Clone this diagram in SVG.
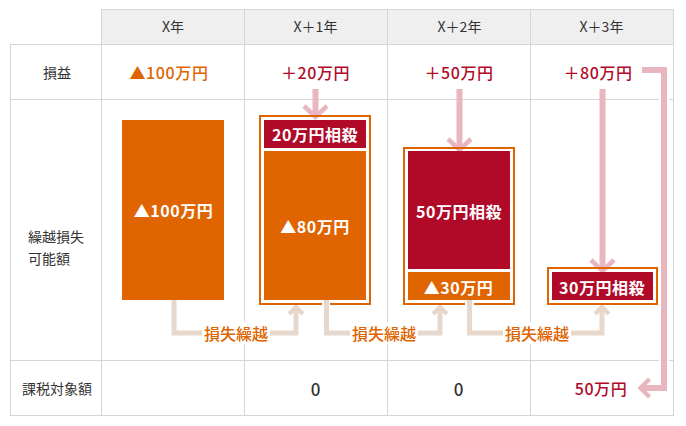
<svg xmlns="http://www.w3.org/2000/svg" width="686" height="426" viewBox="0 0 686 426">
<style>
text{font-family:"Noto Sans CJK JP","Noto Sans",sans-serif;text-anchor:middle;dominant-baseline:central}
.grid{stroke:#d6d6d6;stroke-width:1;fill:none}
.hd{font-size:14px;fill:#333}
.rh{font-size:14px;fill:#333;text-anchor:start}
.val{font-size:16px;font-weight:500;letter-spacing:0.6px}
.or{fill:#e06400}
.rd{fill:#b00a28}
.bt{font-size:16px;font-weight:bold;fill:#fff;letter-spacing:0.5px}
.obox{fill:none;stroke:#e06400;stroke-width:2}
.pk{fill:none;stroke:#e8b6bf;stroke-width:6}
.pkh{fill:none;stroke:#e8b6bf;stroke-width:4.5}
.wh{fill:none;stroke:#fff;stroke-width:10}
.tn{fill:none;stroke:#e7d8cd;stroke-width:5}
.tnh{fill:none;stroke:#e7d8cd;stroke-width:4.5}
.lbl{font-size:16px;font-weight:500;fill:#e06400}
.num{font-size:17px;font-weight:500;fill:#333}
</style>
<rect width="686" height="426" fill="#fff"/>
<g id="table">
<rect x="101" y="9" width="572" height="35" fill="#efefef"/>
<path class="grid" d="M101,9.5H673.5M10,44.5H673.5M10,99.5H673.5M10,360.5H673.5M10,415.5H673.5M10.5,44V416M101.5,9V416M244.5,9V416M387.5,9V416M530.5,9V416M673.5,9V416"/>
<text class="hd" x="173" y="26">X年</text>
<text class="hd" x="315.5" y="26">X＋1年</text>
<text class="hd" x="459.5" y="26">X＋2年</text>
<text class="hd" x="601.5" y="26">X＋3年</text>
<text class="rh" x="43" y="72">損益</text>
<text class="rh" x="28" y="236">繰越損失</text>
<text class="rh" x="28" y="258">可能額</text>
<text class="rh" x="22" y="388">課税対象額</text>
<text class="val or" x="169" y="72">▲100万円</text>
<text class="val rd" x="315.5" y="72">＋20万円</text>
<text class="val rd" x="459" y="72">＋50万円</text>
<text class="val rd" x="598" y="72">＋80万円</text>
<text class="num" x="315.5" y="388">0</text>
<text class="num" x="458.5" y="388">0</text>
<text class="val rd" x="601" y="388">50万円</text>
</g>
<g id="connectors">
<path class="tn" d="M174,300V333H296V309"/>
<path class="tnh" d="M289,314L296,307L303,314"/>
<path class="tn" d="M326.5,300V333H440V309"/>
<path class="tnh" d="M433,314L440,307L447,314"/>
<path class="tn" d="M469.5,300V333H602V309"/>
<path class="tnh" d="M595,314L602,307L609,314"/>
<path class="pk" d="M315.5,89V115"/>
<path class="pkh" d="M304,106L315.5,117L327,106"/>
<path class="pk" d="M459.5,89V148"/>
<path class="pkh" d="M448,139L459.5,150L471,139"/>
<path class="pk" d="M602.5,89V269"/>
<path class="pkh" d="M591,260L602.5,271L614,260"/>
<path class="wh" d="M664,90V370" stroke-width="9"/>
<path class="pk" d="M642,70H664V388H642" stroke-width="5"/>
<path class="pkh" d="M649.5,379L640.5,388L649.5,397"/>
<rect x="202" y="322" width="68" height="22" fill="#fff"/>
<rect x="350" y="322" width="68" height="22" fill="#fff"/>
<rect x="503" y="322" width="68" height="22" fill="#fff"/>
<text class="lbl" x="236" y="333">損失繰越</text>
<text class="lbl" x="384" y="333">損失繰越</text>
<text class="lbl" x="537" y="333">損失繰越</text>
</g>
<g id="bar-x">
<rect x="122" y="120" width="102" height="180" fill="#e06400"/>
<text class="bt" x="173.5" y="210">▲100万円</text>
</g>
<g id="bar-x1">
<path class="obox" d="M322,304H260V116H370V304H330"/>
<rect x="264" y="120" width="102" height="28" fill="#b00a28"/>
<text class="bt" x="315" y="134">20万円相殺</text>
<rect x="264" y="151" width="102" height="149" fill="#e06400"/>
<text class="bt" x="315" y="226">▲80万円</text>
</g>
<g id="bar-x2">
<path class="obox" d="M465,304H404V148H514V304H474"/>
<rect x="408" y="151" width="102" height="118" fill="#b00a28"/>
<text class="bt" x="459" y="211">50万円相殺</text>
<rect x="408" y="272" width="102" height="28" fill="#e06400"/>
<text class="bt" x="458.5" y="287">▲30万円</text>
</g>
<g id="bar-x3">
<rect class="obox" x="548" y="268" width="109" height="36"/>
<rect x="552" y="272" width="101" height="28" fill="#b00a28"/>
<text class="bt" x="602" y="287">30万円相殺</text>
</g>
</svg>
